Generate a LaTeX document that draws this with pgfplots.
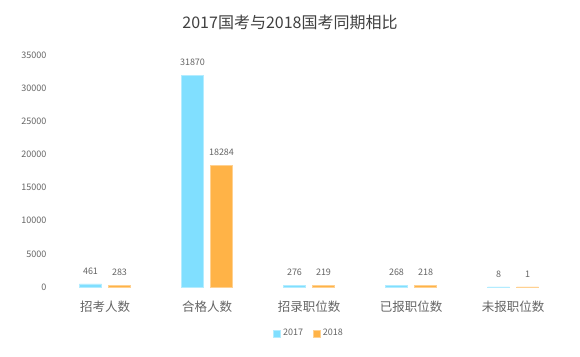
\documentclass[border=0pt]{standalone}
\usepackage{pgfplots}
\pgfplotsset{compat=1.18}
\usepackage{fontspec}
\setmainfont{Noto Sans CJK SC}
\definecolor{c17}{RGB}{128,223,255}
\definecolor{c18}{RGB}{255,179,71}
\definecolor{txt}{RGB}{100,100,100}
\definecolor{ttl}{RGB}{64,64,64}
\begin{document}
\begin{tikzpicture}
\path[use as bounding box] (0,0) rectangle (580pt,356pt);
\begin{axis}[
  at={(54pt,69pt)}, anchor=south west,
  scale only axis, width=510pt, height=232pt,
  xmin=-0.5, xmax=4.5, ymin=0, ymax=35000,
  axis line style={draw=none}, tick style={draw=none},
  ybar, bar width=22pt,
  xtick=data,
  xticklabels={招考人数,合格人数,招录职位数,已报职位数,未报职位数},
  ytick={0,5000,10000,15000,20000,25000,30000,35000},
  /pgf/number format/assume math mode=true,
  yticklabel style={font=\fontsize{9}{10}\selectfont, text=txt, /pgf/number format/1000 sep={}, xshift=-4pt},
  xticklabel style={font=\fontsize{12.5}{13}\selectfont, text=txt, yshift=-6pt},
  scaled y ticks=false,
  nodes near coords,
  nodes near coords style={font=\fontsize{9}{10}\selectfont, text=txt, yshift=6pt},
  point meta=explicit symbolic,
  legend style={at={(0.5,-0.2)}, anchor=center, draw=none, legend columns=2,
    font=\fontsize{9}{10}\selectfont, text=txt,
    /tikz/every even column/.append style={column sep=8pt}},
  legend image code/.code={\fill[#1] (0pt,-3.5pt) rectangle (7pt,3.5pt);},
]
\addplot[fill=c17, draw=c17!60, line width=0.8pt, bar shift=-14.5pt] coordinates {(0,461)[461] (1,31870)[31870] (2,276)[276] (3,268)[268] (4,8)[8]};
\addplot[fill=c18, draw=c18!60, line width=0.8pt, bar shift=14.5pt] coordinates {(0,283)[283] (1,18284)[18284] (2,219)[219] (3,218)[218] (4,1)[1]};
\legend{2017,2018}
\end{axis}
\node[font=\fontsize{16}{17}\selectfont, text=ttl] at (290pt,334pt) {2017国考与2018国考同期相比};
\end{tikzpicture}
\end{document}
